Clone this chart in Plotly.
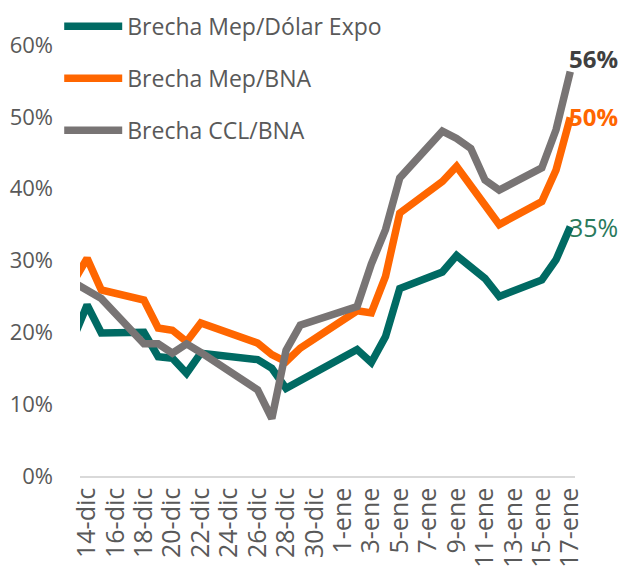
import plotly.graph_objects as go

dates = ["2023-12-13", "2023-12-14", "2023-12-15", "2023-12-18", "2023-12-19", "2023-12-20",
         "2023-12-21", "2023-12-22", "2023-12-26", "2023-12-27", "2023-12-28", "2023-12-29",
         "2024-01-02", "2024-01-03", "2024-01-04", "2024-01-05", "2024-01-08", "2024-01-09",
         "2024-01-10", "2024-01-11", "2024-01-12", "2024-01-15", "2024-01-16", "2024-01-17"]

mep_expo = [19.0, 23.8, 19.9, 20.0, 16.6, 16.4, 14.3, 17.1, 16.2, 15.0, 12.2, 13.3,
            17.6, 15.8, 19.4, 26.1, 28.4, 30.7, 29.0, 27.5, 25.0, 27.3, 30.1, 34.7]
mep_bna = [26.9, 30.3, 25.9, 24.5, 20.6, 20.3, 18.7, 21.3, 18.5, 16.9, 15.9, 17.8,
           23.0, 22.7, 27.8, 36.6, 41.0, 43.1, 40.4, 37.7, 35.0, 38.2, 42.6, 49.9]
ccl_bna = [27.0, 25.85, 24.7, 18.4, 18.4, 17.1, 18.4, 17.2, 12.0, 8.0, 17.5, 21.0,
           23.6, 29.5, 34.3, 41.5, 48.0, 47.0, 45.6, 41.2, 39.8, 42.9, 48.2, 56.3]

names = ["Brecha Mep/Dólar Expo", "Brecha Mep/BNA", "Brecha CCL/BNA"]
colors = ["#006A63", "#FF6600", "#787474"]
label_colors = ["#2A7A5C", "#FF6600", "#404040"]
label_bold = [False, True, True]
label_size = [25, 24, 24]
label_yshift = [0, 1, 13]

tick_vals = ["2023-12-14", "2023-12-16", "2023-12-18", "2023-12-20", "2023-12-22", "2023-12-24",
             "2023-12-26", "2023-12-28", "2023-12-30", "2024-01-01", "2024-01-03", "2024-01-05",
             "2024-01-07", "2024-01-09", "2024-01-11", "2024-01-13", "2024-01-15", "2024-01-17"]
tick_text = ["14-dic", "16-dic", "18-dic", "20-dic", "22-dic", "24-dic", "26-dic", "28-dic",
             "30-dic", "1-ene", "3-ene", "5-ene", "7-ene", "9-ene", "11-ene", "13-ene",
             "15-ene", "17-ene"]

FONT = "Open Sans"
fig = go.Figure()
series = [mep_expo, mep_bna, ccl_bna]
for i, s in enumerate(series):
    fig.add_trace(go.Scatter(
        x=dates, y=s, mode="lines", name=names[i],
        line=dict(color=colors[i], width=7.5),
        legendgroup=f"g{i}",
    ))
    txt = f"{round(s[-1]):d}%"
    if label_bold[i]:
        txt = f"<b>{txt}</b>"
    fig.add_annotation(x=dates[-1], y=s[-1], text=txt, showarrow=False,
                       xanchor="left", yanchor="middle", xshift=-3, yshift=label_yshift[i],
                       font=dict(family=FONT, size=label_size[i], color=label_colors[i]))

fig.update_layout(
    width=620, height=578,
    margin=dict(l=80, r=45, t=45, b=102, autoexpand=False),
    paper_bgcolor="white", plot_bgcolor="white",
    font=dict(family=FONT, color="#595959", size=20),
    showlegend=True,
    legend=dict(x=-0.042, y=1.093, xanchor="left", yanchor="top",
                bgcolor="rgba(0,0,0,0)", font=dict(size=23, color="#595959"),
                itemwidth=58, tracegroupgap=19, traceorder="grouped"),
    xaxis=dict(type="date", range=["2023-12-13 12:00", "2024-01-17 08:00"],
               tickmode="array", tickvals=tick_vals, ticktext=tick_text,
               tickangle=-90, showgrid=False, zeroline=False,
               showline=True, linecolor="#D9D9D9", linewidth=1.5, ticks="",
               tickfont=dict(size=25, color="#595959")),
    yaxis=dict(range=[0, 60], tickvals=[0, 10, 20, 30, 40, 50, 60],
               ticktext=["0%", "10%", "20%", "30%", "40%", "50%", "60%"],
               showgrid=False, zeroline=False, showline=False, ticks="",
               ticklabelstandoff=26, tickfont=dict(size=22, color="#595959")),
)

fig.write_html("out.html")
